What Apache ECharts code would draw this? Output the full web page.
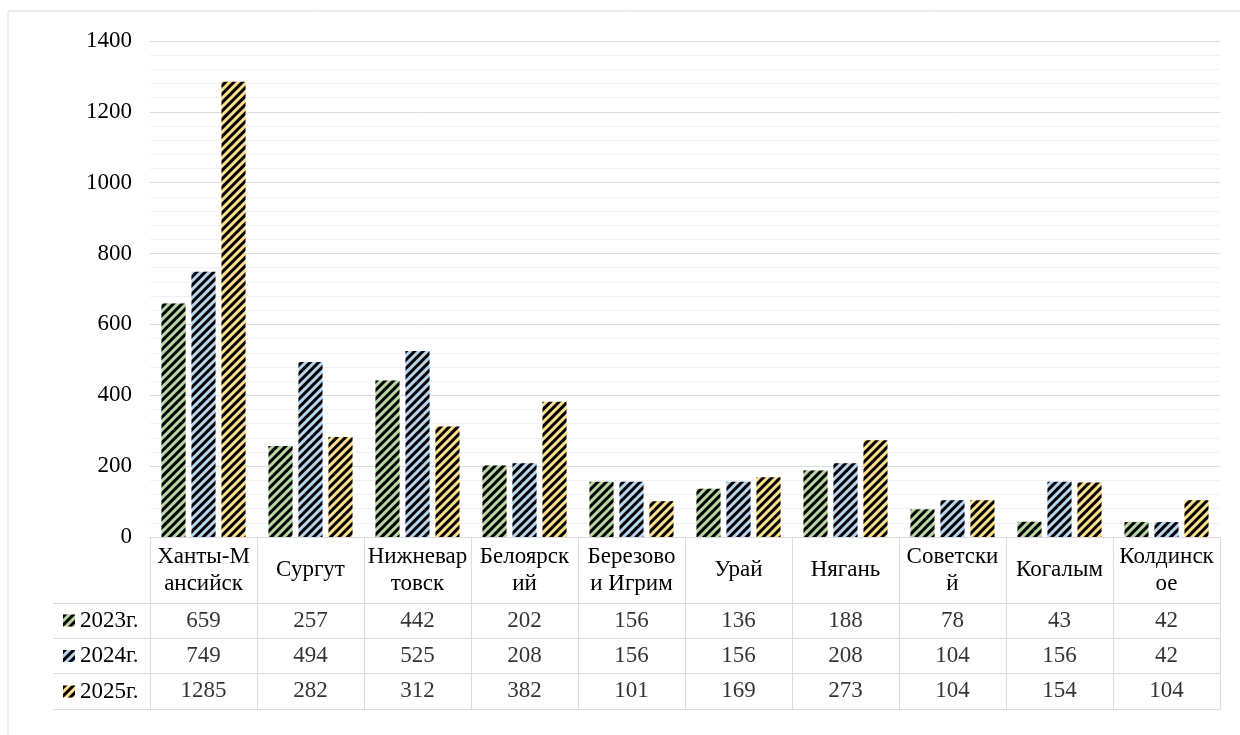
<!DOCTYPE html>
<html>
<head>
<meta charset="utf-8">
<script src="https://cdn.jsdelivr.net/npm/echarts@6/dist/echarts.min.js"></script>
<style>
  html, body { margin: 0; padding: 0; background: #fff; }
  #chart { width: 1240px; height: 735px; }
</style>
</head>
<body>
<div id="chart"></div>
<script>
// города (подписи с переносами как в таблице Excel)
const categories = ['Ханты-М\nансийск', 'Сургут', 'Нижневар\nтовск', 'Белоярск\nий', 'Березово\nи Игрим',
    'Урай', 'Нягань', 'Советски\nй', 'Когалым', 'Колдинск\nое'];
const years = ['2023г.', '2024г.', '2025г.'];
const y2023 = [659, 257, 442, 202, 156, 136, 188, 78, 43, 42];
const y2024 = [749, 494, 525, 208, 156, 156, 208, 104, 156, 42];
const y2025 = [1285, 282, 312, 382, 101, 169, 273, 104, 154, 104];
const yTicks = [0, 200, 400, 600, 800, 1000, 1200, 1400];

const colors = ['#b6d7a3', '#b9d4ee', '#fedf8c'];
const font = "'Liberation Serif', 'Times New Roman', serif";
const border = '#d9dce2';

let dom = document.getElementById('chart');
let myChart = echarts.init(dom);

const decal = {
    symbol: 'rect',
    symbolSize: 1,
    color: '#000',
    dashArrayX: [1, 0],
    dashArrayY: [3, 3],
    rotation: -Math.PI / 4
};

const seriesData = [y2023, y2024, y2025];

// значения таблицы: [город, год, значение]
let cells = [];
seriesData.forEach((arr, r) => {
    arr.forEach((v, c) => cells.push([categories[c], years[r], v]));
});

let options = {
    animation: false,
    textStyle: { fontFamily: font },
    graphic: [{
        type: 'rect',
        shape: { x: 8, y: 11, width: 1400, height: 900 },
        style: { fill: 'none', stroke: border, lineWidth: 1 },
        silent: true
    }],
    legend: {
        data: years,
        orient: 'vertical',
        left: 63,
        top: 609,
        padding: 0,
        itemWidth: 12,
        itemHeight: 12,
        itemGap: 12.5,
        icon: 'rect',
        textStyle: { fontFamily: font, fontSize: 23, lineHeight: 23, color: '#000' }
    },
    grid: [
        { left: 150, right: 20, top: 41, bottom: 198 },
        { left: 150, right: 20, top: 603, bottom: 26 }
    ],
    xAxis: [{
        type: 'category',
        gridIndex: 0,
        data: categories,
        axisLine: { lineStyle: { color: border } },
        axisTick: { show: true, length: 66, lineStyle: { color: border } },
        axisLabel: {
            interval: 0,
            margin: 33,
            verticalAlign: 'middle',
            fontFamily: font,
            fontSize: 23,
            lineHeight: 27,
            color: '#000'
        }
    }, {
        type: 'category',
        gridIndex: 1,
        data: categories,
        axisLine: { show: true, lineStyle: { color: border } },
        axisTick: { show: false },
        axisLabel: { show: false },
        splitLine: { show: true, lineStyle: { color: border } }
    }],
    yAxis: [{
        type: 'value',
        gridIndex: 0,
        min: yTicks[0],
        max: yTicks[yTicks.length - 1],
        interval: 200,
        axisLabel: {
            fontFamily: font, fontSize: 23, color: '#000', margin: 18,
            formatter: v => String(v)
        },
        splitLine: { lineStyle: { color: '#d9dce3' } },
        minorTick: { show: false, splitNumber: 5 },
        minorSplitLine: { show: true, lineStyle: { color: '#eff1f4' } }
    }, {
        type: 'category',
        gridIndex: 1,
        data: years,
        inverse: true,
        axisLine: { show: true, lineStyle: { color: border } },
        axisTick: { show: true, length: 97, lineStyle: { color: border } },
        axisLabel: { show: false },
        splitLine: { show: true, lineStyle: { color: border } }
    }, {
        type: 'category',
        gridIndex: 1,
        data: years,
        offset: 97,
        axisLine: { show: true, lineStyle: { color: border } },
        axisTick: { show: false },
        axisLabel: { show: false }
    }],
    series: years.map((name, i) => ({
        name: name,
        type: 'bar',
        xAxisIndex: 0,
        yAxisIndex: 0,
        barGap: '25%',
        barCategoryGap: '21.5%',
        itemStyle: { color: colors[i], decal: decal },
        data: seriesData[i]
    })).concat([{
        name: 'table',
        type: 'scatter',
        xAxisIndex: 1,
        yAxisIndex: 1,
        symbolSize: 1,
        itemStyle: { color: 'rgba(0,0,0,0)' },
        label: {
            show: true,
            position: 'inside',
            fontFamily: font,
            fontSize: 23,
            color: '#000',
            formatter(p) {
                return p.value[2];
            }
        },
        data: cells
    }])
};

myChart.setOption(options);
</script>
</body>
</html>
